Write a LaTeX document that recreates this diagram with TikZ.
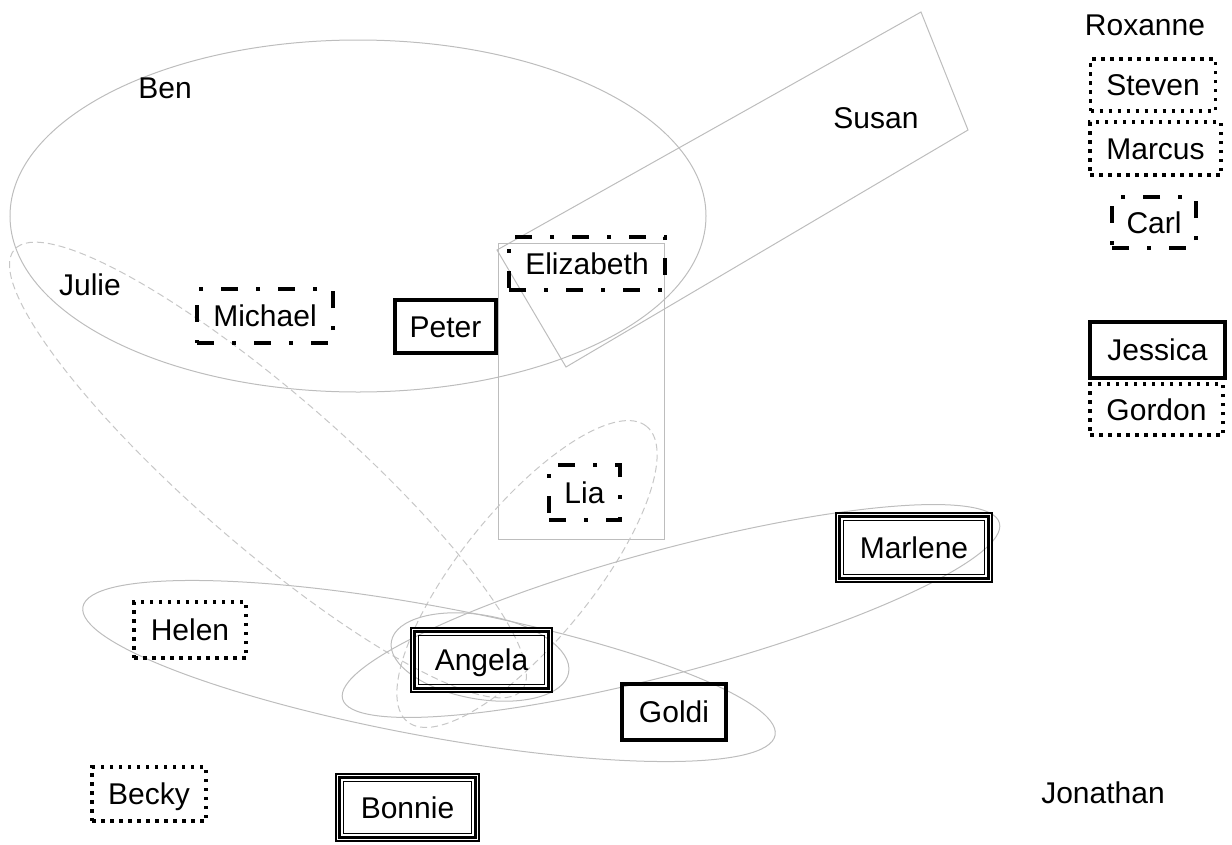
\documentclass[tikz,border=0pt]{standalone}
\usepackage{fontspec}
\setmainfont{Liberation Sans}
\definecolor{grp}{gray}{0.74}
\definecolor{grpd}{gray}{0.78}
\begin{document}
\begin{tikzpicture}[x=1pt,y=-1pt,
  every node/.style={font=\fontsize{30}{32}\selectfont, inner sep=0pt,
    text height=21.5pt, text depth=0pt, align=center},
  lbl/.style={},
  dottedbox/.style={draw, line width=3.5pt, dash pattern=on 3.5pt off 5.5pt},
  dashdotbox/.style={draw, line width=4pt, dash pattern=on 17pt off 18pt on 4pt off 18pt},
  solidbox/.style={draw, line width=4pt},
  triplebox/.style={draw, double, line width=2.2pt, double distance=1.3pt},
  innerframe/.style={line width=1.2pt},
  groupline/.style={draw=grp, line width=1pt},
  groupdash/.style={draw=grpd, line width=1pt, dash pattern=on 7pt off 4pt}]

\useasboundingbox (0,0) rectangle (1232,844);

% group outlines
\draw[groupline] (358,216) ellipse [x radius=348pt, y radius=176pt];
\draw[groupline] (497,250) -- (566,367) -- (968,130) -- (921,12) -- cycle;
\draw[groupline] (498,243) rectangle (664,539);
\draw[groupdash, rotate around={-41:(268,470)}] (268,470) ellipse [x radius=336pt, y radius=76pt];
\draw[groupdash, rotate around={51:(527,574)}] (527,574) ellipse [x radius=190pt, y radius=66pt];
\draw[groupline, rotate around={-10.5:(429,671)}] (429,671) ellipse [x radius=352pt, y radius=65pt];
\draw[groupline, rotate around={15:(671,611)}] (671,611) ellipse [x radius=340pt, y radius=62pt];
\draw[groupline, rotate around={-10:(480,657)}] (480,657) ellipse [x radius=90pt, y radius=42pt];

% free labels
\node[lbl] (ben) at (165,88) {Ben};
\node[lbl] (susan) at (876,118) {Susan};
\node[lbl] (julie) at (90,285) {Julie};
\node[lbl] (roxanne) at (1145,25) {Roxanne};
\node[lbl] (jonathan) at (1103,793) {Jonathan};

% right column
\node[dottedbox, minimum width=125pt, minimum height=52pt] (steven) at (1153,85) {Steven};
\node[dottedbox, minimum width=131pt, minimum height=53pt] (marcus) at (1155.5,148.5) {Marcus};
\node[dashdotbox, minimum width=84pt, minimum height=51pt] (carl) at (1154,222.5) {Carl};
\node[solidbox, minimum width=135pt, minimum height=56pt] (jessica) at (1157.5,350) {Jessica};
\node[dottedbox, minimum width=133pt, minimum height=51pt] (gordon) at (1156.5,409.5) {Gordon};

% upper part
\node[dashdotbox, minimum width=136pt, minimum height=54pt] (michael) at (265,316) {Michael};
\node[solidbox, minimum width=101pt, minimum height=53pt] (peter) at (445.5,326.5) {Peter};
\node[dashdotbox, minimum width=156pt, minimum height=53pt] (elizabeth) at (587,263.5) {Elizabeth};
\node[dashdotbox, minimum width=71pt, minimum height=55pt] (lia) at (584.5,492.5) {Lia};

% lower part
\node[triplebox, minimum width=137.5pt, minimum height=60.5pt] (angela) at (481.5,660) {Angela};
\node[triplebox, minimum width=152.5pt, minimum height=65.5pt] (marlene) at (914,547.5) {Marlene};
\node[dottedbox, minimum width=112pt, minimum height=56pt] (helen) at (190,630) {Helen};
\node[dottedbox, minimum width=114pt, minimum height=54pt] (becky) at (149,794) {Becky};
\node[triplebox, minimum width=139.5pt, minimum height=63.5pt] (bonnie) at (407.5,807.5) {Bonnie};
\node[solidbox, minimum width=104pt, minimum height=56pt] (goldi) at (674,712) {Goldi};

% third line of the triple frames
\foreach \n in {angela,marlene,bonnie}
  \draw[innerframe] ([shift={(6.5pt,-6.5pt)}]\n.north west) rectangle ([shift={(-6.5pt,6.5pt)}]\n.south east);

\end{tikzpicture}
\end{document}
